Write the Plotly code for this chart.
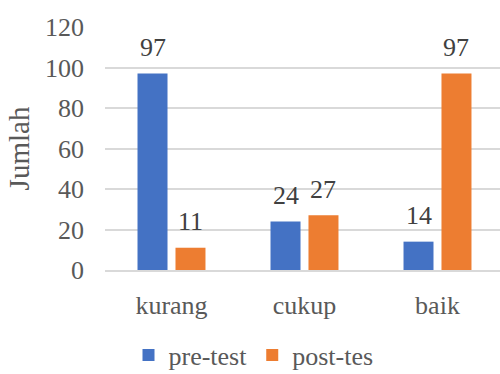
import plotly.graph_objects as go

categories = ["kurang", "cukup", "baik"]
pre_test = [97, 24, 14]
post_tes = [11, 27, 97]
y_ticks = [0, 20, 40, 60, 80, 100, 120]

BLUE = "#4472C4"
ORANGE = "#ED7D31"
FONT = "Liberation Serif, Times New Roman, serif"
BARGAP = 0.429
HALF_SLOT = (1 - BARGAP) / 4  # offset of each bar centre from its category

fig = go.Figure()
fig.add_trace(go.Bar(name="pre-test", x=categories, y=pre_test,
                     marker=dict(color=BLUE, line=dict(width=0))))
fig.add_trace(go.Bar(name="post-tes", x=categories, y=post_tes,
                     marker=dict(color=ORANGE, line=dict(width=0))))

# value labels above each bar
for i, (a, b) in enumerate(zip(pre_test, post_tes)):
    for val, off in ((a, -HALF_SLOT), (b, HALF_SLOT)):
        fig.add_annotation(x=i + off, y=val, text=str(val), showarrow=False,
                           yshift=26, font=dict(family=FONT, size=26, color="#404040"))

fig.update_layout(
    width=500, height=374,
    margin=dict(l=105, r=0, t=27, b=104),
    paper_bgcolor="white", plot_bgcolor="white",
    barmode="group", bargap=BARGAP, bargroupgap=0.21,
    font=dict(family=FONT, color="#595959"),
    showlegend=True,
    legend=dict(orientation="h", xref="container", yref="container",
                x=0.507, xanchor="center", y=1 - 355 / 374, yanchor="middle",
                font=dict(family=FONT, size=26, color="#595959"),
                itemwidth=30, tracegroupgap=0),
    xaxis=dict(range=[-0.5, 2.47], showgrid=False, showline=True,
               linecolor="#d9d9d9", linewidth=1.5, ticks="",
               ticklabelstandoff=11,
               tickfont=dict(family=FONT, size=26, color="#595959")),
    yaxis=dict(range=[0, 120], tickvals=y_ticks, showgrid=True,
               gridcolor="#d9d9d9", gridwidth=1.5, zeroline=False,
               showline=False, ticks="", ticklabelstandoff=20,
               tickfont=dict(family=FONT, size=26, color="#595959"),
               title=dict(text="Jumlah", standoff=6,
                          font=dict(family=FONT, size=29, color="#595959"))),
)

fig.write_html("out.html")
